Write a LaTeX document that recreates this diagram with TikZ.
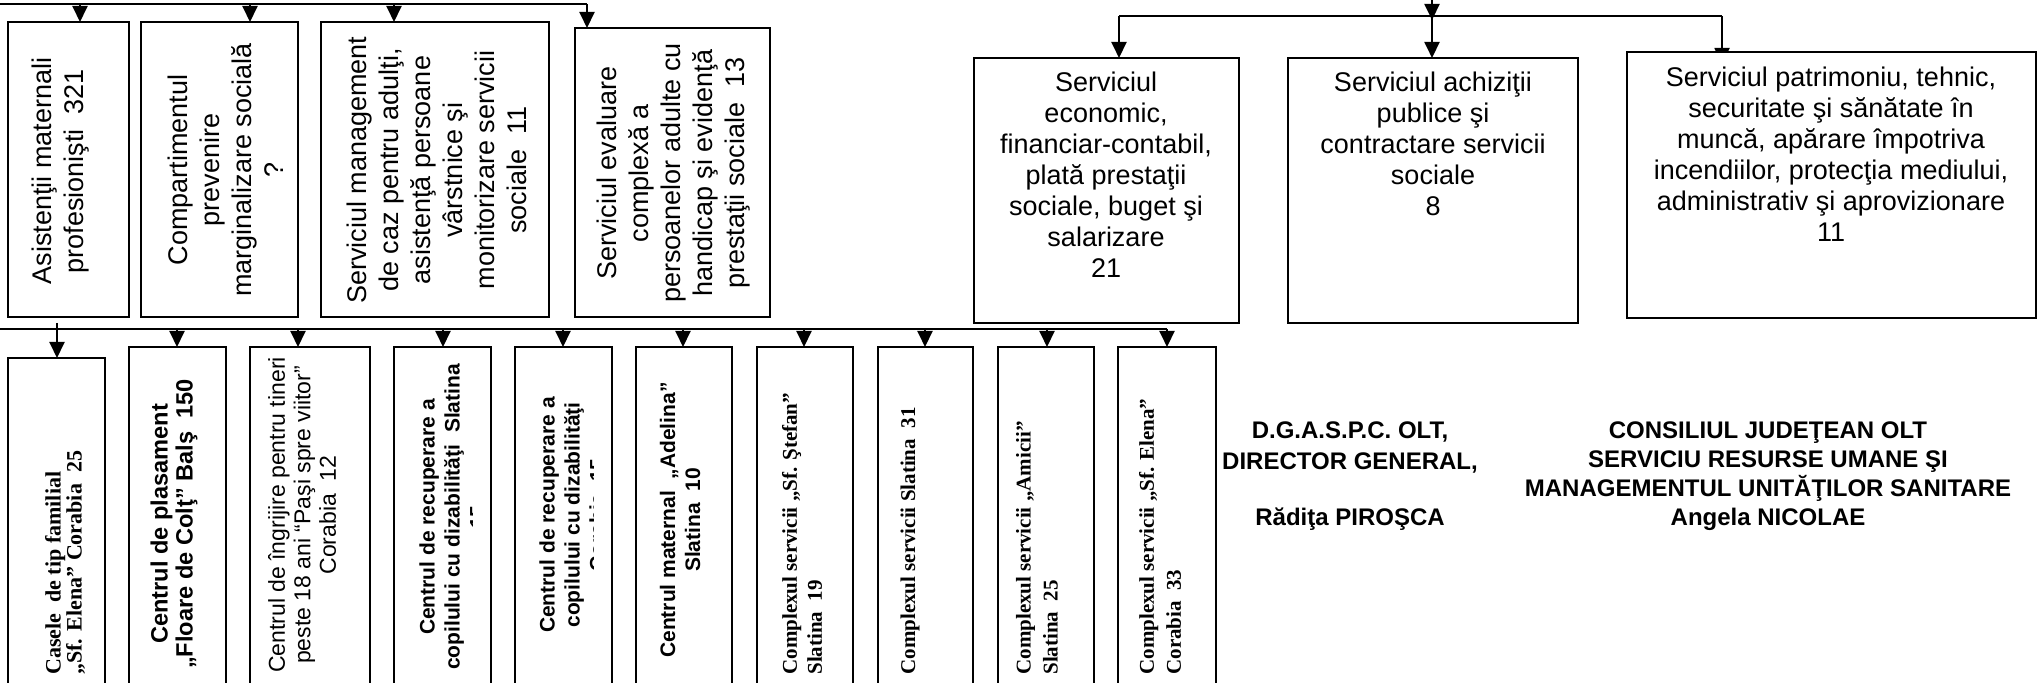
\documentclass[tikz,border=0pt]{standalone}
\usepackage{fontspec}
\setmainfont{Liberation Sans}
\newfontfamily\arialf{Liberation Sans}
\newfontfamily\tnrf{Liberation Serif}
\usetikzlibrary{arrows.meta,calc}
\pgfdeclarelayer{bgl}
\pgfsetlayers{bgl,main}
\tikzset{
 box/.style={draw, line width=1pt, fill=white, inner sep=0pt, outer sep=0pt, anchor=north west},
 arr/.style={line width=1pt, -{Triangle[width=7.5pt,length=8pt]}},
 conn/.style={line width=1pt},
 toptxt/.style={rotate=90, align=center, inner sep=0pt, font={\arialf\fontsize{13.5pt}{16pt}\selectfont}},
 rtxt/.style={anchor=north, align=center, inner sep=0pt, font={\arialf\fontsize{13.5pt}{15.5pt}\selectfont}},
 bab/.style={rotate=90, align=center, inner sep=0pt, font={\arialf\bfseries\fontsize{10.5pt}{12.5pt}\selectfont}},
 bar/.style={rotate=90, align=center, inner sep=0pt, font={\arialf\fontsize{11.5pt}{12.75pt}\selectfont}},
 btb/.style={rotate=90, anchor=west, align=left, inner sep=0pt, font={\tnrf\bfseries\fontsize{10.5pt}{12.5pt}\selectfont}},
 sig/.style={anchor=north, align=center, inner sep=0pt},
}
\begin{document}
\begin{tikzpicture}[x=0.5pt,y=-0.5pt]
\useasboundingbox (0,0) rectangle (2038,683);
\clip (0,0) rectangle (2038,683);
% top-left boxes
\node[box, minimum width=60.5pt, minimum height=147.5pt] (a1) at (8,22) {};
\node[box, minimum width=78.5pt, minimum height=147.5pt] (a2) at (141,22) {};
\node[box, minimum width=114pt, minimum height=147.5pt] (a3) at (321,22) {};
\node[box, minimum width=97.5pt, minimum height=144.5pt] (a4) at (575,28) {};
\node[toptxt] (ta1) at (61,171) {Asistenţii maternali\\profesionişti~~321};
\node[toptxt] (ta2) at (226,170) {Compartimentul\\prevenire\\marginalizare socială\\?};
\node[toptxt] (ta3) at (437,170) {Serviciul management\\de caz pentru adulţi,\\asistenţă persoane\\vârstnice şi\\monitorizare servicii\\sociale~~11};
\node[toptxt] (ta4) at (674,173) {Serviciul evaluare\\complexă a\\persoanelor adulte cu\\handicap şi evidenţă\\prestaţii sociale~~13};
% right boxes
\node[box, minimum width=132.5pt, minimum height=132.5pt] (e1) at (974,58) {};
\node[box, minimum width=145pt, minimum height=132.5pt] (e2) at (1288,58) {};
\node[box, minimum width=204.5pt, minimum height=133pt] (e3) at (1627,52) {};
\node[rtxt] (te1) at (1106,72) {Serviciul\\economic,\\financiar-contabil,\\plată prestaţii\\sociale, buget şi\\salarizare\\21};
\node[rtxt] (te2) at (1433,72) {Serviciul achiziţii\\publice şi\\contractare servicii\\sociale\\8};
\node[rtxt] (te3) at (1831,67) {Serviciul patrimoniu, tehnic,\\securitate şi sănătate în\\muncă, apărare împotriva\\incendiilor, protecţia mediului,\\administrativ şi aprovizionare\\11};
% bottom boxes
\node[box, minimum width=48.5pt, minimum height=171pt] (b1) at (8,358) {};
\node[box, minimum width=48.5pt, minimum height=176.5pt] (b2) at (129,347) {};
\node[box, minimum width=60pt, minimum height=176.5pt] (b3) at (250,347) {};
\node[box, minimum width=48.5pt, minimum height=176.5pt] (b4) at (394,347) {};
\node[box, minimum width=48.5pt, minimum height=176.5pt] (b5) at (515,347) {};
\node[box, minimum width=48pt, minimum height=176.5pt] (b6) at (636,347) {};
\node[box, minimum width=48pt, minimum height=176.5pt] (b7) at (757,347) {};
\node[box, minimum width=47.5pt, minimum height=176.5pt] (b8) at (878,347) {};
\node[box, minimum width=48pt, minimum height=176.5pt] (b9) at (998,347) {};
\node[box, minimum width=49pt, minimum height=176.5pt] (b10) at (1118,347) {};
\node[btb, font={\tnrf\bfseries\fontsize{11pt}{10.5pt}\selectfont}] (tb1) at (65,675) {Casele~~de tip familial\\„Sf. Elena” Corabia~~25};
\node[bab, font={\arialf\bfseries\fontsize{11.8pt}{12.5pt}\selectfont}] (tb2) at (174,524) {Centrul de plasament\\„Floare de Colţ” Balş~~150};
\node[bar] (tb3) at (302,515) {Centrul de îngrijire pentru tineri\\peste 18 ani “Paşi spre viitor”\\Corabia~~12};
\begin{scope}
\clip (b4.north west) rectangle ($(b4.south east)+(-19,0)$);
\node[bab] (tb4) at (452,517) {Centrul de recuperare a\\copilului cu dizabilităţi~~Slatina\\15};
\end{scope}
\begin{scope}
\clip (b5.north west) rectangle ($(b5.south east)+(-19,0)$);
\node[bab] (tb5) at (572,515) {Centrul de recuperare a\\copilului cu dizabilităţi\\Corabia~~15};
\end{scope}
\node[bab] (tb6) at (680,520) {Centrul maternal~~„Adelina”\\Slatina~~10};
\node[btb] (tb7) at (802,675) {Complexul servicii „Sf. Ştefan”\\Slatina~~19};
\node[btb] (tb8) at (910,675) {Complexul servicii Slatina~~31};
\node[btb, font={\tnrf\bfseries\fontsize{10.5pt}{13.5pt}\selectfont}] (tb9) at (1037,675) {Complexul servicii „Amicii”\\Slatina~~25};
\node[btb, font={\tnrf\bfseries\fontsize{10.5pt}{13.5pt}\selectfont}] (tb10) at (1160,675) {Complexul servicii „Sf. Elena”\\Corabia~~33};
% signatures
\node[sig, font={\arialf\bfseries\fontsize{12pt}{15.5pt}\selectfont}] (s1) at (1350,421) {D.G.A.S.P.C. OLT,\\DIRECTOR GENERAL,\\[12.5pt]Rădiţa PIROŞCA};
\node[sig, font={\arialf\bfseries\fontsize{12pt}{14.5pt}\selectfont}] (s2) at (1768,421) {CONSILIUL JUDEŢEAN OLT\\SERVICIU RESURSE UMANE ŞI\\MANAGEMENTUL UNITĂŢILOR SANITARE\\Angela NICOLAE};
% connectors top-left
\coordinate (tl0) at (0,4);
\coordinate (j1) at (80,4);
\coordinate (j2) at (250,4);
\coordinate (j3) at (394,4);
\coordinate (j4) at (587,4);
\draw[conn] (tl0) -- (j4);
\foreach \i in {1,...,4} \draw[arr] (j\i) -- (j\i |- a\i.north);
% middle line
\coordinate (ml0) at (0,329);
\coordinate (m1) at (57,323);
\coordinate (m2) at (177,329);
\coordinate (m3) at (298,329);
\coordinate (m4) at (443,329);
\coordinate (m5) at (563,329);
\coordinate (m6) at (683,329);
\coordinate (m7) at (804,329);
\coordinate (m8) at (925,329);
\coordinate (m9) at (1047,329);
\coordinate (m10) at (1167,329);
\draw[conn] (ml0) -- (m10);
\foreach \i in {1,...,10} \draw[arr] (m\i) -- (m\i |- b\i.north);
% right tree
\coordinate (tr0) at (1432,0);
\coordinate (r1) at (1119,16);
\coordinate (r2) at (1432,16);
\coordinate (r3) at (1722,16);
\draw[arr] (tr0) -- ($(r2)+(0,4)$);
\draw[conn] (r1) -- (r3);
\draw[arr] (r1) -- (r1 |- e1.north);
\draw[arr] (r2) -- (r2 |- e2.north);
\begin{pgfonlayer}{bgl}
\draw[arr] (r3) -- ($(r3 |- e3.north)+(0,12)$);
\end{pgfonlayer}
\end{tikzpicture}
\end{document}
